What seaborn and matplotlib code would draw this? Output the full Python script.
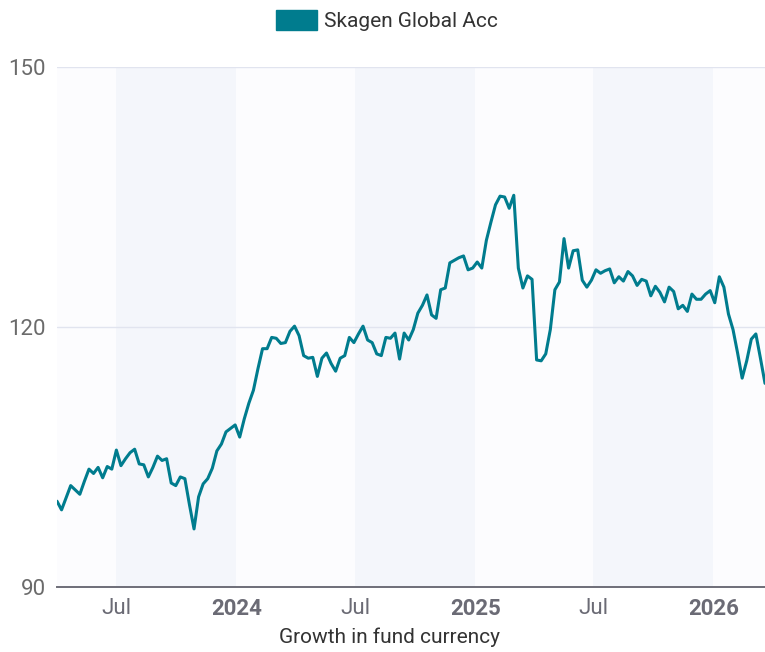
import matplotlib
matplotlib.use('Agg')
import matplotlib.pyplot as plt
from matplotlib.patches import Patch
import seaborn as sns
import pandas as pd

# weekly values, Skagen Global Acc (indexed growth)
inicio = '2023-04-01'
fim_eixo = '2026-03-21'
serie = 'Skagen Global Acc'
valores = [
    99.9, 98.9, 100.3, 101.7, 101.2, 100.7, 102.2, 103.6, 103.1, 103.8,
    102.6, 103.9, 103.6, 105.8, 104.0, 104.8, 105.5, 105.9, 104.2, 104.1,
    102.7, 103.8, 105.1, 104.6, 104.8, 102.0, 101.7, 102.7, 102.5, 99.5,
    96.7, 100.4, 101.9, 102.5, 103.7, 105.7, 106.5, 107.9, 108.3, 108.7,
    107.3, 109.4, 111.2, 112.7, 115.2, 117.5, 117.5, 118.8, 118.7, 118.1,
    118.2, 119.5, 120.1, 119.0, 116.7, 116.4, 116.5, 114.3, 116.4, 117.0,
    115.8, 114.9, 116.4, 116.7, 118.8, 118.2, 119.2, 120.1, 118.5, 118.2,
    116.9, 116.7, 118.8, 118.7, 119.3, 116.3, 119.3, 118.5, 119.7, 121.6,
    122.5, 123.7, 121.4, 121.0, 124.3, 124.5, 127.4, 127.7, 128.0, 128.2,
    126.6, 126.8, 127.5, 126.8, 130.0, 132.1, 134.1, 135.1, 135.0, 133.7,
    135.2, 126.8, 124.5, 125.9, 125.5, 116.2, 116.1, 116.9, 119.7, 124.3,
    125.2, 130.2, 126.8, 128.8, 128.9, 125.4, 124.6, 125.4, 126.6, 126.2,
    126.5, 126.7, 125.1, 125.8, 125.3, 126.4, 125.9, 124.8, 125.5, 125.3,
    123.6, 124.7, 124.0, 122.9, 124.6, 124.1, 122.1, 122.5, 121.8, 123.8,
    123.2, 123.2, 123.8, 124.2, 122.8, 125.8, 124.6, 121.5, 119.7, 117.0,
    114.1, 116.1, 118.6, 119.2, 116.4, 113.5,
]
faixas = [('2023-07-01', '2024-01-01'), ('2024-07-01', '2025-01-01'), ('2025-07-01', '2026-01-01')]
ticks_y = [90, 120, 150]
ticks_x = ['2023-07-01', '2024-01-01', '2024-07-01', '2025-01-01', '2025-07-01', '2026-01-01']
rotulos_x = ['Jul', '2024', 'Jul', '2025', 'Jul', '2026']

df = pd.DataFrame({
    'Data': pd.date_range(inicio, periods=len(valores), freq='7D'),
    'Valor': valores,
})

sns.set_style('white')
plt.rcParams['font.family'] = ['Roboto', 'DejaVu Sans']

cor = '#007c8e'
fig = plt.figure(figsize=(7.65, 6.52), dpi=100)
ax = fig.add_axes([0.0745, 0.0997, 0.9255, 0.7975])
ax.set_facecolor('#fcfcfe')

for a, b in faixas:
    ax.axvspan(pd.Timestamp(a), pd.Timestamp(b), color='#f4f6fb', zorder=0, lw=0)

for v in ticks_y[1:]:
    ax.axhline(v, color='#e1e4ef', lw=1.0, zorder=1)

sns.lineplot(x='Data', y='Valor', data=df, ax=ax, color=cor, lw=2.2, zorder=3)

ax.set_xlim(pd.Timestamp(inicio), pd.Timestamp(fim_eixo))
ax.set_ylim(90, 150)
ax.set_yticks(ticks_y)
ax.set_yticklabels([str(t) for t in ticks_y])
ax.set_xticks([pd.Timestamp(t) for t in ticks_x])
ax.set_xticklabels(rotulos_x)
for lbl in ax.get_xticklabels():
    if lbl.get_text() != 'Jul':
        lbl.set_fontweight('bold')

for s in ['top', 'right', 'left']:
    ax.spines[s].set_visible(False)
ax.spines['bottom'].set_color('#6e6e78')
ax.spines['bottom'].set_linewidth(1.4)

ax.tick_params(axis='y', length=0, pad=8, labelsize=16, labelcolor='#6b6b6b')
ax.tick_params(axis='x', length=5, width=1, color='#6e6e78', pad=3, labelsize=16, labelcolor='#6b6b75')

ax.set_ylabel('')
ax.set_xlabel('Growth in fund currency', fontsize=15, color='#333333')
# label is centred on the figure, not on the axes
ax.xaxis.set_label_coords(0.469, -0.077)

fig.legend(handles=[Patch(facecolor=cor, edgecolor=cor, label=serie)],
           loc='center', bbox_to_anchor=(0.506, 0.968), frameon=False,
           fontsize=15, handlelength=1.97, handleheight=1.1, handletextpad=0.35,
           labelcolor='#333333')

fig.savefig('out.png', dpi=100)
